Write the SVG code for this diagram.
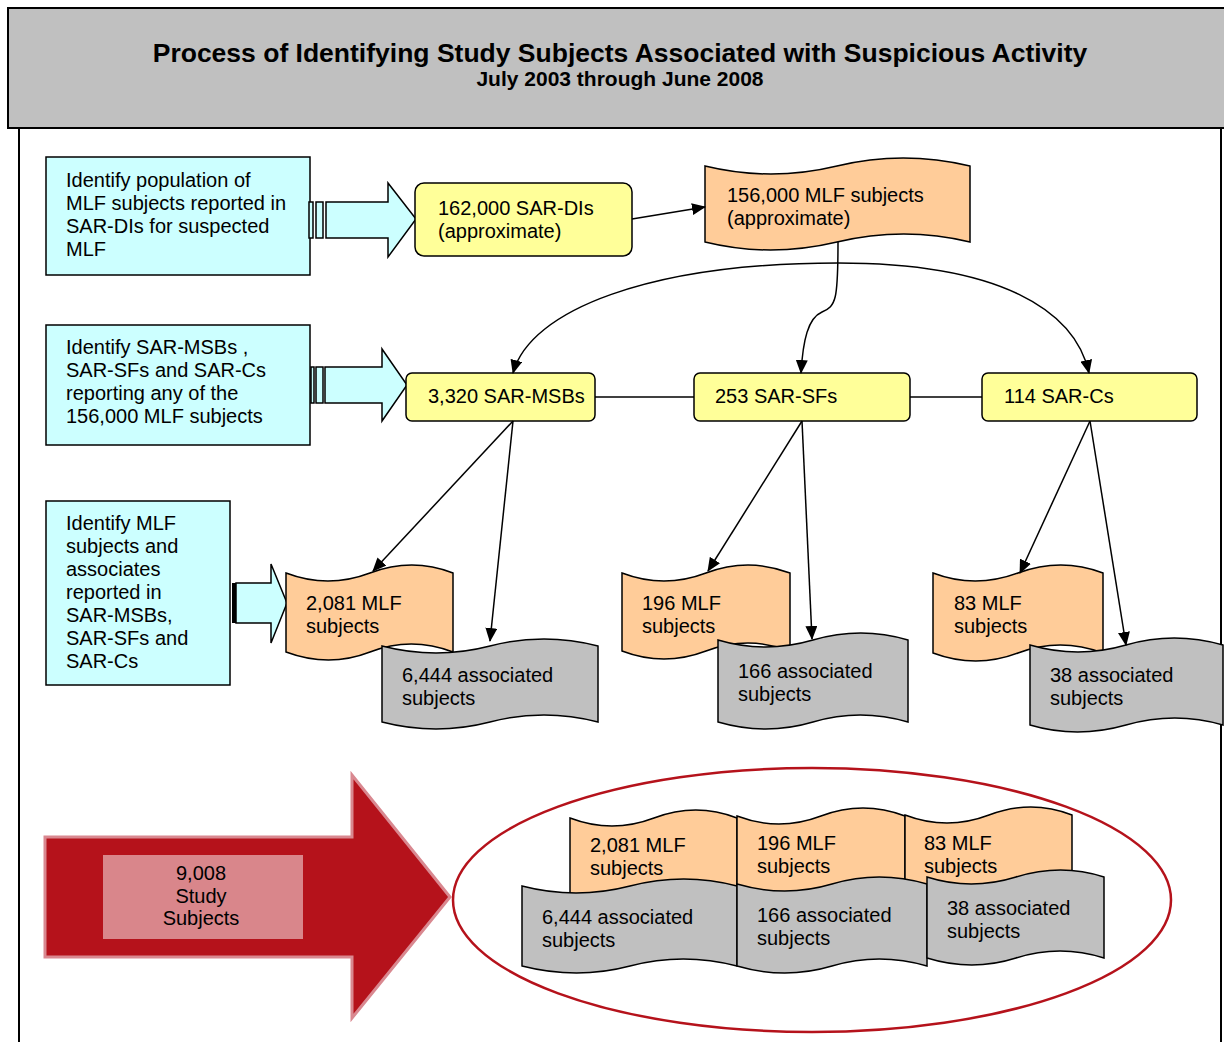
<svg xmlns="http://www.w3.org/2000/svg" width="1224" height="1042" viewBox="0 0 1224 1042">
<defs>
<style>
text{font-family:"Liberation Sans",Arial,sans-serif;font-size:20px;fill:#000}
.title{font-weight:bold;font-size:26.5px}
.sub{font-weight:bold;font-size:21px}
.cyan{fill:#ccffff;stroke:#000;stroke-width:1.5}
.yel{fill:#ffff99;stroke:#000;stroke-width:1.5}
.org{fill:#ffcc99;stroke:#000;stroke-width:1.5}
.gry{fill:#c0c0c0;stroke:#000;stroke-width:1.5}
.con{fill:none;stroke:#000;stroke-width:1.5}
.arr{marker-end:url(#ah)}
</style>
<marker id="ah" markerWidth="14" markerHeight="12" refX="13" refY="6" orient="auto" markerUnits="userSpaceOnUse">
<path d="M0,0 L14,6 L0,12 Z" fill="#000"/>
</marker>
</defs>

<g id="header">
<rect x="8" y="8" width="1230" height="120" fill="#c0c0c0" stroke="#000" stroke-width="2"/>
<text class="title" x="620" y="62" text-anchor="middle">Process of Identifying Study Subjects Associated with Suspicious Activity</text>
<text class="sub" x="620" y="86" text-anchor="middle">July 2003 through June 2008</text>
</g>
<g id="frame" stroke="#000" stroke-width="2">
<line x1="19" y1="128" x2="19" y2="1042"/>
<line x1="1221" y1="128" x2="1221" y2="1042"/>
</g>

<g id="step1">
<rect class="cyan" x="46" y="157" width="264" height="118"/>
<text x="66" y="187">Identify population of</text>
<text x="66" y="210">MLF subjects reported in</text>
<text x="66" y="233">SAR-DIs for suspected</text>
<text x="66" y="256">MLF</text>
</g>
<g id="step2">
<rect class="cyan" x="46" y="325" width="264" height="120"/>
<text x="66" y="354">Identify SAR-MSBs ,</text>
<text x="66" y="377"> SAR-SFs and SAR-Cs</text>
<text x="66" y="400">reporting any of the</text>
<text x="66" y="423">156,000 MLF subjects</text>
</g>
<g id="step3">
<rect class="cyan" x="46" y="501" width="184" height="184"/>
<text x="66" y="530">Identify MLF</text>
<text x="66" y="553">subjects and</text>
<text x="66" y="576">associates</text>
<text x="66" y="599">reported in</text>
<text x="66" y="622">SAR-MSBs,</text>
<text x="66" y="645">SAR-SFs and</text>
<text x="66" y="668">SAR-Cs</text>
</g>

<g id="blockarrow1">
<rect class="cyan" x="309" y="202" width="4" height="36"/>
<rect class="cyan" x="316" y="202" width="7" height="36"/>
<polygon class="cyan" points="326,202 388,202 388,183 416,219 388,257 388,238 326,238"/>
</g>
<g id="blockarrow2">
<rect class="cyan" x="311" y="367" width="3" height="36"/>
<rect class="cyan" x="316" y="367" width="7" height="36"/>
<polygon class="cyan" points="325,367 382,367 382,349 407,385 382,421 382,403 325,403"/>
</g>
<g id="blockarrow3">
<rect x="232" y="583" width="4" height="40" fill="#000"/>
<polygon class="cyan" points="236,583 271,583 271,564 287,603 271,643 271,623 236,623"/>
</g>

<g id="sardi">
<rect class="yel" x="415" y="183" width="217" height="73" rx="9"/>
<text x="438" y="215">162,000 SAR-DIs</text>
<text x="438" y="238">(approximate)</text>
</g>
<g id="mlf156">
<path class="org" d="M705,166 Q771,182 837,166 T970,166 L970,242 Q904,226 837,242 T705,242 Z"/>
<text x="727" y="202">156,000 MLF subjects</text>
<text x="727" y="225">(approximate)</text>
</g>

<g id="sarmsb">
<rect class="yel" x="406" y="373" width="189" height="48" rx="6"/>
<text x="428" y="403">3,320 SAR-MSBs</text>
</g>
<g id="sarsf">
<rect class="yel" x="694" y="373" width="216" height="48" rx="6"/>
<text x="715" y="403">253 SAR-SFs</text>
</g>
<g id="sarc">
<rect class="yel" x="982" y="373" width="215" height="48" rx="6"/>
<text x="1004" y="403">114 SAR-Cs</text>
</g>

<g id="mlf2081">
<path class="org" d="M286,573 Q328,589 370,573 T453,573 L453,652 Q411,636 370,652 T286,652 Z"/>
<text x="306" y="610">2,081 MLF</text>
<text x="306" y="633">subjects</text>
</g>
<g id="assoc6444">
<path class="gry" d="M382,646 Q436,660 490,646 T598,646 L598,722 Q544,708 490,722 T382,722 Z"/>
<text x="402" y="682">6,444 associated</text>
<text x="402" y="705">subjects</text>
</g>
<g id="mlf196">
<path class="org" d="M622,573 Q664,589 706,573 T790,573 L790,651 Q748,635 706,651 T622,651 Z"/>
<text x="642" y="610">196 MLF</text>
<text x="642" y="633">subjects</text>
</g>
<g id="assoc166">
<path class="gry" d="M718,640 Q765,654 813,640 T908,640 L908,722 Q860,708 813,722 T718,722 Z"/>
<text x="738" y="678">166 associated</text>
<text x="738" y="701">subjects</text>
</g>
<g id="mlf83">
<path class="org" d="M933,573 Q975,589 1018,573 T1103,573 L1103,653 Q1060,637 1018,653 T933,653 Z"/>
<text x="954" y="610">83 MLF</text>
<text x="954" y="633">subjects</text>
</g>
<g id="assoc38">
<path class="gry" d="M1030,645 Q1078,659 1126,645 T1223,645 L1223,725 Q1175,711 1126,725 T1030,725 Z"/>
<text x="1050" y="682">38 associated</text>
<text x="1050" y="705">subjects</text>
</g>

<g id="connectors">
<line class="con arr" x1="632" y1="219" x2="705" y2="207"/>
<path class="con arr" d="M838,263 C650,263 530,310 513,373"/>
<path class="con arr" d="M838,263 C1000,263 1075,310 1089,373"/>
<path class="con arr" d="M838,242 C838,300 836,306 822,312 C808,318 803,340 801,373"/>
<line class="con" x1="595" y1="397" x2="694" y2="397"/>
<line class="con" x1="910" y1="397" x2="982" y2="397"/>
<line class="con arr" x1="513" y1="421" x2="373" y2="571"/>
<line class="con arr" x1="513" y1="421" x2="490" y2="641"/>
<line class="con arr" x1="802" y1="421" x2="708" y2="571"/>
<line class="con arr" x1="802" y1="421" x2="812" y2="639"/>
<line class="con arr" x1="1090" y1="421" x2="1020" y2="573"/>
<line class="con arr" x1="1090" y1="421" x2="1126" y2="645"/>
</g>

<g id="total">
<polygon points="45,837 352,837 352,775 450,897 352,1018 352,957 45,957" fill="#b5121b" stroke="#d98890" stroke-width="3"/>
<rect x="103" y="855" width="200" height="84" fill="#d9868b"/>
<text x="201" y="880" text-anchor="middle">9,008</text>
<text x="201" y="903" text-anchor="middle">Study</text>
<text x="201" y="925" text-anchor="middle">Subjects</text>
</g>

<g id="summary">
<ellipse cx="812" cy="900" rx="359" ry="132" fill="none" stroke="#b5121b" stroke-width="2.5"/>
<path class="org" d="M570,818 Q612,834 654,818 T737,818 L737,898 Q695,882 654,898 T570,898 Z"/>
<path class="org" d="M737,816 Q779,832 821,816 T905,816 L905,896 Q863,880 821,896 T737,896 Z"/>
<path class="org" d="M905,815 Q947,831 989,815 T1072,815 L1072,895 Q1030,879 989,895 T905,895 Z"/>
<text x="590" y="852">2,081 MLF</text>
<text x="590" y="875">subjects</text>
<text x="757" y="850">196 MLF</text>
<text x="757" y="873">subjects</text>
<text x="924" y="850">83 MLF</text>
<text x="924" y="873">subjects</text>
<path class="gry" d="M522,886 Q576,900 630,886 T737,886 L737,966 Q683,952 630,966 T522,966 Z"/>
<path class="gry" d="M737,884 Q785,898 832,884 T927,884 L927,966 Q879,952 832,966 T737,966 Z"/>
<path class="gry" d="M927,877 Q971,891 1016,877 T1104,877 L1104,958 Q1060,944 1016,958 T927,958 Z"/>
<text x="542" y="924">6,444 associated</text>
<text x="542" y="947">subjects</text>
<text x="757" y="922">166 associated</text>
<text x="757" y="945">subjects</text>
<text x="947" y="915">38 associated</text>
<text x="947" y="938">subjects</text>
</g>
</svg>
